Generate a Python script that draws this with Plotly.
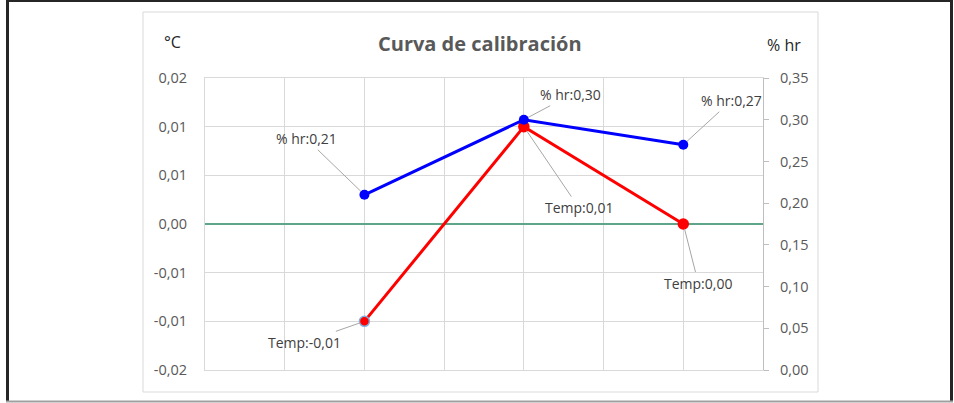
import plotly.graph_objects as go

# ---- data ----
x_pos = [2, 4, 6]
temp_vals = [-0.01, 0.01, 0.00]
hr_vals = [0.21, 0.30, 0.27]
left_tickvals = [-0.015, -0.01, -0.005, 0.0, 0.005, 0.01, 0.015]
left_ticktext = ["-0,02", "-0,01", "-0,01", "0,00", "0,01", "0,01", "0,02"]
title_text = "Curva de calibración"

W, H = 954, 403
PL, PR, PT, PB = 205, 763, 78, 370  # plot area in pixels


def fx(px):
    return (px - PL) / (PR - PL)


def fy(py):
    return (PB - py) / (PB - PT)


def fmt(v):
    return f"{v:.2f}".replace(".", ",")


FONT = "Open Sans"
TXT = "#595959"
RED = "#ff0000"
BLUE = "#0000ff"

fig = go.Figure()
fig.add_trace(go.Scatter(
    x=x_pos, y=temp_vals, name="Temp", mode="lines+markers",
    line=dict(color=RED, width=3),
    marker=dict(size=10, color=RED, line=dict(color=["#7fb0e0", RED, RED], width=1.5)),
    yaxis="y", showlegend=False))
fig.add_trace(go.Scatter(
    x=x_pos, y=hr_vals, name="% hr", mode="lines+markers",
    line=dict(color=BLUE, width=3),
    marker=dict(size=10, color=BLUE),
    yaxis="y2", showlegend=False))

annotations = []
temp_offsets = [(-60, 21), (55, 81), (15, 59)]
hr_offsets = [(-58, -56), (47, -25), (48, -44)]
LBL = dict(family=FONT, size=14, color="#404040")
for xv, v, (ax, ay) in zip(x_pos, temp_vals, temp_offsets):
    annotations.append(dict(x=xv, y=v, xref="x", yref="y", text="Temp:" + fmt(v),
                            showarrow=True, arrowhead=0, arrowwidth=1, arrowcolor="#a6a6a6",
                            ax=ax, ay=ay, standoff=5, font=LBL))
for xv, v, (ax, ay) in zip(x_pos, hr_vals, hr_offsets):
    annotations.append(dict(x=xv, y=v, xref="x", yref="y2", text="% hr:" + fmt(v),
                            showarrow=True, arrowhead=0, arrowwidth=1, arrowcolor="#a6a6a6",
                            ax=ax, ay=ay, standoff=5, font=LBL))

annotations.append(dict(x=fx(480), y=fy(43), xref="paper", yref="paper", text="<b>" + title_text + "</b>",
                        showarrow=False, xanchor="center", yanchor="middle",
                        font=dict(family=FONT, size=20, color=TXT)))
annotations.append(dict(x=fx(172), y=fy(42), xref="paper", yref="paper", text="°C",
                        showarrow=False, xanchor="center", yanchor="middle",
                        font=dict(family=FONT, size=16, color="#262626")))
annotations.append(dict(x=fx(784), y=fy(45), xref="paper", yref="paper", text="% hr",
                        showarrow=False, xanchor="center", yanchor="middle",
                        font=dict(family=FONT, size=16, color="#262626")))

shapes = [
    # chart area border
    dict(type="rect", xref="paper", yref="paper", x0=fx(143), x1=fx(818), y0=fy(392), y1=fy(12),
         line=dict(color="#d9d9d9", width=1), layer="below"),
    # outer frame
    dict(type="line", xref="paper", yref="paper", x0=fx(7.5), x1=fx(7.5), y0=fy(402), y1=fy(0),
         line=dict(color="#262626", width=3)),
    dict(type="line", xref="paper", yref="paper", x0=fx(951.5), x1=fx(951.5), y0=fy(402), y1=fy(0),
         line=dict(color="#262626", width=3)),
    dict(type="line", xref="paper", yref="paper", x0=fx(6), x1=fx(953), y0=fy(1), y1=fy(1),
         line=dict(color="#262626", width=2)),
    dict(type="line", xref="paper", yref="paper", x0=fx(6), x1=fx(953), y0=fy(401.5), y1=fy(401.5),
         line=dict(color="#a0a0a0", width=2)),
]

TICKF = dict(family=FONT, size=14.5, color=TXT)
fig.update_layout(
    width=W, height=H,
    margin=dict(l=PL, r=W - PR, t=PT, b=H - PB, pad=0),
    paper_bgcolor="white", plot_bgcolor="white",
    separators=",.",
    font=dict(family=FONT, size=13, color=TXT),
    xaxis=dict(range=[0, 7], dtick=1, tick0=0, showgrid=True, gridcolor="#d9d9d9", gridwidth=1,
               showticklabels=False, zeroline=False, showline=True, linecolor="#d9d9d9",
               mirror=True, ticks=""),
    yaxis=dict(range=[-0.015, 0.015], tickvals=left_tickvals, ticktext=left_ticktext,
               showgrid=True, gridcolor="#d9d9d9", gridwidth=1,
               zeroline=True, zerolinecolor="#5fa58a", zerolinewidth=1.5,
               showline=True, linecolor="#d9d9d9", ticks="", ticklabelstandoff=14,
               tickfont=TICKF),
    yaxis2=dict(range=[0, 0.35], dtick=0.05, tick0=0, tickformat=".2f", overlaying="y", side="right",
                showgrid=False, zeroline=False, showline=True, linecolor="#bfbfbf",
                ticks="outside", ticklen=5, tickcolor="#bfbfbf", ticklabelstandoff=8,
                tickfont=TICKF),
    annotations=annotations,
    shapes=shapes,
)

fig.write_html("out.html", config={"displayModeBar": False},
               post_script="document.body.style.margin='0';document.body.style.overflow='hidden';")
